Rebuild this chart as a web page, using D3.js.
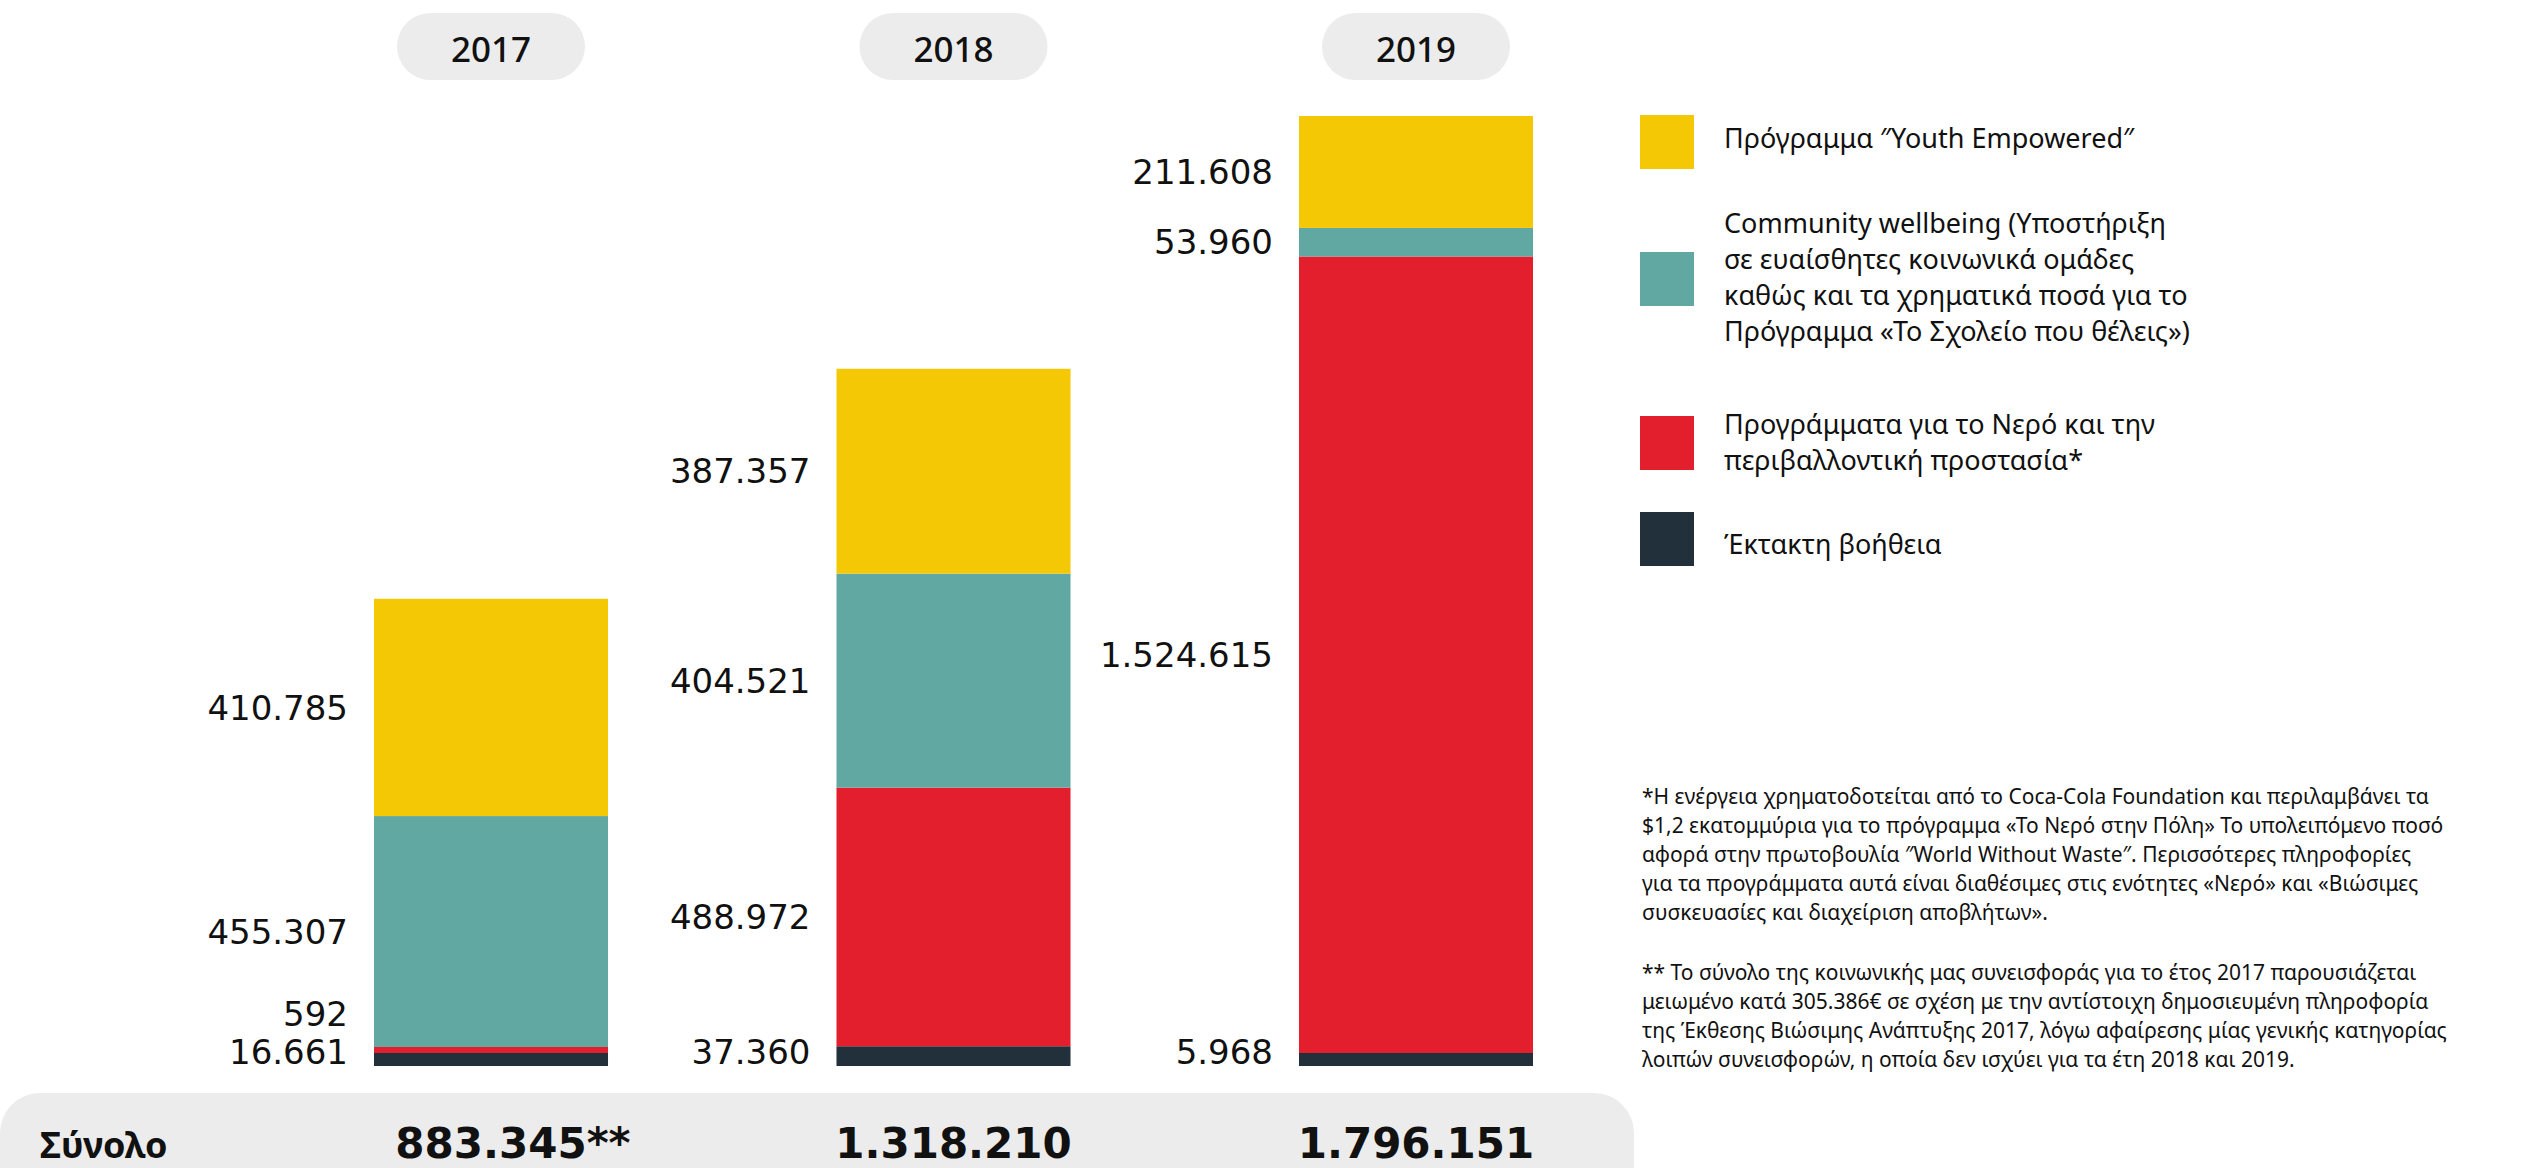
<!DOCTYPE html>
<html>
<head>
<meta charset="utf-8">
<script src="https://cdn.jsdelivr.net/npm/d3@7"></script>
<style>
  html, body { margin: 0; padding: 0; background: #fff; }
  svg { display: block; }
</style>
</head>
<body>
<svg id="chart" width="2521" height="1168"></svg>
<script>
// ---------- data ----------
const years = ["2017", "2018", "2019"];
const youth = [410785, 387357, 211608];          // Πρόγραμμα "Youth Empowered"
const community = [455307, 404521, 53960];       // Community wellbeing
const water = [592, 488972, 1524615];            // Προγράμματα για το Νερό
const emergency = [16661, 37360, 5968];          // Έκτακτη βοήθεια
const totalMarks = ["**", "", ""];

const seriesNames = [
  "Έκτακτη βοήθεια",
  "Προγράμματα για το Νερό και την περιβαλλοντική προστασία*",
  "Community wellbeing",
  "Πρόγραμμα ″Youth Empowered″"
];
const seriesValues = [emergency, water, community, youth]; // bottom -> top
const seriesColors = ["#22303c", "#e31f2d", "#62a8a2", "#f5c806"];

const legendLines = [
  ["Πρόγραμμα ″Youth Empowered″"],
  ["Community wellbeing (Υποστήριξη", "σε ευαίσθητες κοινωνικά ομάδες", "καθώς και τα χρηματικά ποσά για το", "Πρόγραμμα «Το Σχολείο που θέλεις»)"],
  ["Προγράμματα για το Νερό και την", "περιβαλλοντική προστασία*"],
  ["Έκτακτη βοήθεια"]
];
const legendColors = ["#f5c806", "#62a8a2", "#e31f2d", "#22303c"];

const footnote1 = [
  "*Η ενέργεια χρηματοδοτείται από το Coca-Cola Foundation και περιλαμβάνει τα",
  "$1,2 εκατομμύρια για το πρόγραμμα «Το Νερό στην Πόλη» Το υπολειπόμενο ποσό",
  "αφορά στην πρωτοβουλία ″World Without Waste″. Περισσότερες πληροφορίες",
  "για τα προγράμματα αυτά είναι διαθέσιμες στις ενότητες «Νερό» και «Βιώσιμες",
  "συσκευασίες και διαχείριση αποβλήτων»."
];
const footnote2 = [
  "** Το σύνολο της κοινωνικής μας συνεισφοράς για το έτος 2017 παρουσιάζεται",
  "μειωμένο κατά 305.386€ σε σχέση με την αντίστοιχη δημοσιευμένη πληροφορία",
  "της Έκθεσης Βιώσιμης Ανάπτυξης 2017, λόγω αφαίρεσης μίας γενικής κατηγορίας",
  "λοιπών συνεισφορών, η οποία δεν ισχύει για τα έτη 2018 και 2019."
];
const totalLabel = "Σύνολο";

// ---------- setup ----------
const svg = d3.select("#chart");
const loc = d3.formatLocale({decimal: ",", thousands: ".", grouping: [3], currency: ["", "€"]});
const fmt = loc.format(",d");

const totals = years.map((_, i) => d3.sum(seriesValues, s => s[i]));

const x = d3.scaleBand().domain(years).range([374, 1533]).paddingInner(0.494).paddingOuter(0);
const y = d3.scaleLinear().domain([0, d3.max(totals)]).range([1066, 116]);

// minimum visible height per series (bottom series a little thicker, as in the original)
const MIN_H = [13, 6, 6, 6];

// Stacked segments in pixel space with a minimum visible height;
// extra pixels come out of the tallest segment so the bar top stays true.
const bars = years.map((yr, i) => {
  const vals = seriesValues.map(s => s[i]);
  const raw = vals.map(v => y(0) - y(v));
  const h = raw.map((r, k) => Math.max(r, MIN_H[k]));
  const extra = d3.sum(h) - d3.sum(raw);
  h[d3.maxIndex(raw)] -= extra;
  let base = y(0);
  const segs = vals.map((v, k) => {
    const top = base - h[k];
    const seg = {year: yr, k, value: v, y0: base, y1: top, color: seriesColors[k]};
    base = top;
    return seg;
  });
  return {year: yr, segs, total: totals[i], mark: totalMarks[i]};
});

// ---------- total row background ----------
svg.append("rect")
  .attr("x", 0).attr("y", 1093).attr("width", 1634).attr("height", 140)
  .attr("rx", 40).attr("ry", 40).attr("fill", "#ececec");

// ---------- year pills ----------
const pills = svg.append("g").selectAll("g").data(years).join("g")
  .attr("transform", d => `translate(${x(d) + x.bandwidth() / 2},0)`);
pills.append("rect")
  .attr("x", -94).attr("y", 13).attr("width", 188).attr("height", 67)
  .attr("rx", 33.5).attr("ry", 33.5).attr("fill", "#ececec");
pills.append("text")
  .attr("x", 0).attr("y", 50).attr("dy", "0.35em")
  .attr("text-anchor", "middle")
  .style("font-family", "'Noto Sans', sans-serif").style("font-size", "35px").style("font-weight", 500)
  .attr("fill", "#111").text(d => d);

// ---------- bars ----------
const barG = svg.append("g").selectAll("g").data(bars).join("g");
barG.selectAll("rect").data(d => d.segs).join("rect")
  .attr("x", d => x(d.year)).attr("width", x.bandwidth())
  .attr("y", d => d.y1).attr("height", d => d.y0 - d.y1)
  .attr("fill", d => d.color);

// ---------- value labels (centered on segment, pushed apart bottom-up) ----------
const SPACING = 38;
bars.forEach(b => {
  let prev = Infinity;
  b.segs.forEach(s => {
    let c = (s.y0 + s.y1) / 2;
    c = Math.min(c, y(0) - 14, prev - SPACING);
    s.labelY = c;
    prev = c;
  });
});
barG.selectAll("text.val").data(d => d.segs).join("text")
  .attr("class", "val")
  .attr("x", d => x(d.year) - 26)
  .attr("y", d => d.labelY).attr("dy", "0.36em")
  .attr("text-anchor", "end")
  .style("font-family", "'DejaVu Sans', sans-serif").style("font-size", "34px")
  .attr("fill", "#111").text(d => fmt(d.value));

// ---------- total row text ----------
svg.append("text")
  .attr("x", 40).attr("y", 1158)
  .style("font-family", "'Noto Sans', sans-serif").style("font-size", "36px").style("font-weight", 700)
  .attr("fill", "#111").text(totalLabel);

const totG = svg.append("g").selectAll("g").data(bars).join("g")
  .style("font-family", "'DejaVu Sans', sans-serif").style("font-size", "42px").style("font-weight", 700)
  .attr("fill", "#111");
totG.append("text")
  .attr("class", "num")
  .attr("x", d => x(d.year) + x.bandwidth() / 2)
  .attr("y", 1158)
  .attr("text-anchor", "middle")
  .text(d => fmt(d.total));
totG.each(function(d) {
  if (!d.mark) return;
  const g = d3.select(this);
  const w = g.select("text.num").node().getComputedTextLength();
  g.append("text")
    .attr("x", x(d.year) + x.bandwidth() / 2 + w / 2)
    .attr("y", 1158)
    .text(d.mark);
});

// ---------- legend ----------
const legendSwatchY = [115, 252, 416, 512];
const legendTextY = [[139], [224, 260, 296, 332], [425, 461], [545]];
const lg = svg.append("g");
legendColors.forEach((c, i) => {
  lg.append("rect").attr("x", 1640).attr("y", legendSwatchY[i]).attr("width", 54).attr("height", 54).attr("fill", c);
  legendLines[i].forEach((line, j) => {
    lg.append("text")
      .attr("x", 1724).attr("y", legendTextY[i][j]).attr("dy", "0.35em")
      .style("font-family", "'Noto Sans', sans-serif").style("font-size", "27px")
      .attr("fill", "#111").text(line);
  });
});

// ---------- footnotes ----------
const fn = svg.append("g")
  .style("font-family", "'Noto Sans', sans-serif").style("font-size", "21px").attr("fill", "#111");
footnote1.forEach((line, j) => {
  fn.append("text").attr("x", 1642).attr("y", 797 + j * 29).attr("dy", "0.35em").text(line);
});
footnote2.forEach((line, j) => {
  fn.append("text").attr("x", 1642).attr("y", 973 + j * 29).attr("dy", "0.35em").text(line);
});
</script>
</body>
</html>
